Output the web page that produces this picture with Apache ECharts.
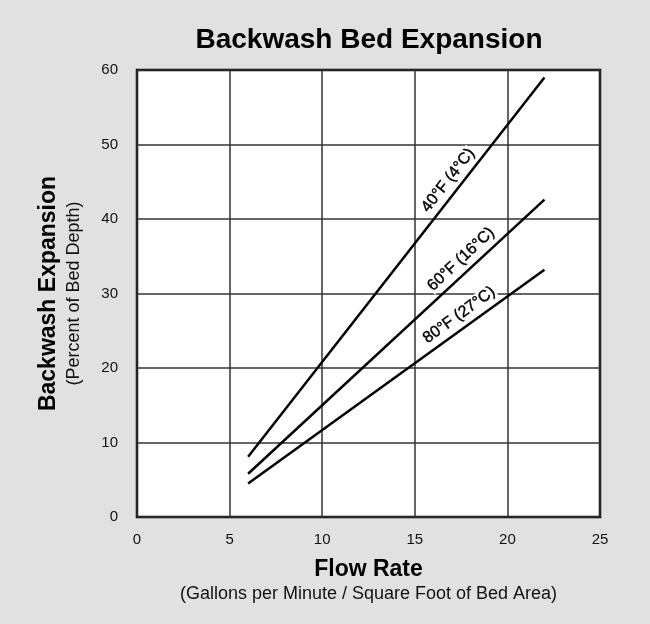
<!DOCTYPE html>
<html><head><meta charset="utf-8">
<script src="https://cdn.jsdelivr.net/npm/echarts@6/dist/echarts.min.js"></script>
<style>html,body{margin:0;padding:0;background:#e1e1e1;}#c{width:650px;height:624px;}</style>
</head><body><div id="c"></div>
<script>
const flowRate = [6, 22];
const exp40F = [8.1, 59.0];
const exp60F = [5.8, 42.6];
const exp80F = [4.5, 33.2];
const seriesNames = ['40°F (4°C)', '60°F (16°C)', '80°F (27°C)'];
const labelAt = [[16.8, 45.2], [17.5, 34.6], [17.4, 27.1]];
const labelAngle = [52, 43, 36];
const xTicks = [0, 5, 10, 15, 20, 25];
const yTicks = [0, 10, 20, 30, 40, 50, 60];

const allSeries = [exp40F, exp60F, exp80F];
const chart = echarts.init(document.getElementById('c'));
const font = 'Liberation Sans, Arial, sans-serif';
const lineSeries = allSeries.map((vals, i) => ({
  type: 'line', name: seriesNames[i], showSymbol: false, symbol: 'none',
  data: flowRate.map((x, j) => [x, vals[j]]),
  lineStyle: {color: '#000', width: 2.5}, z: 3
}));
const labelSeries = seriesNames.map((name, i) => ({
  type: 'scatter', name: name + ' label', symbol: 'circle', symbolSize: 0, z: 4,
  data: [{value: labelAt[i]}],
  label: {show: true, formatter: name, rotate: labelAngle[i], position: 'inside', opacity: 1,
    fontFamily: font, fontSize: 16, color: '#000', backgroundColor: '#fff', padding: [0, 1],
    textBorderColor: '#000', textBorderWidth: 0.4},
  itemStyle: {color: '#000', opacity: 1}
}));
chart.setOption({
  backgroundColor: '#e1e1e1',
  animation: false,
  title: {
    text: 'Backwash Bed Expansion', left: 364, top: 21, textAlign: 'center',
    textStyle: {fontFamily: font, fontSize: 28, fontWeight: 'bold', color: '#000'}
  },
  grid: {left: 137, right: 50, top: 70, bottom: 107, show: true, backgroundColor: '#fff',
    borderColor: '#000', borderWidth: 2.5},
  xAxis: {
    type: 'value', min: xTicks[0], max: xTicks[xTicks.length-1], interval: 5,
    axisLine: {show: false}, axisTick: {show: false},
    axisLabel: {fontFamily: font, fontSize: 15, color: '#111', margin: 15},
    splitLine: {lineStyle: {color: '#333', width: 1.5}},
    name: '{a|Flow Rate}\n{b|(Gallons per Minute / Square Foot of Bed Area)}',
    nameLocation: 'middle', nameGap: 40,
    nameTextStyle: {rich: {
      a: {fontFamily: font, fontSize: 23, fontWeight: 'bold', color: '#000', lineHeight: 26},
      b: {fontFamily: font, fontSize: 18, color: '#111', lineHeight: 22}
    }}
  },
  yAxis: {
    type: 'value', min: yTicks[0], max: yTicks[yTicks.length-1], interval: 10,
    axisLine: {show: false}, axisTick: {show: false},
    axisLabel: {fontFamily: font, fontSize: 15, color: '#111', margin: 19},
    splitLine: {lineStyle: {color: '#333', width: 1.5}},
    name: '{a|Backwash Expansion}\n{b|(Percent of Bed Depth)}',
    nameLocation: 'middle', nameGap: 51, nameRotate: 90,
    nameTextStyle: {rich: {
      a: {fontFamily: font, fontSize: 23, fontWeight: 'bold', color: '#000', lineHeight: 26},
      b: {fontFamily: font, fontSize: 18, color: '#111', lineHeight: 24}
    }}
  },
  series: lineSeries.concat(labelSeries)
});
</script></body></html>
